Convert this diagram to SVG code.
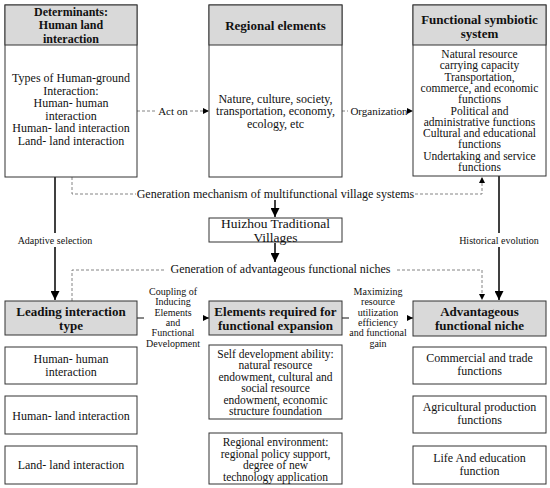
<svg xmlns="http://www.w3.org/2000/svg" width="550" height="488" viewBox="0 0 550 488">
<style>
.box{fill:#fff;stroke:#333;stroke-width:1}
.hdr{fill:#d9d9d9;stroke:#333;stroke-width:1}
text{font-family:"Liberation Serif","Times New Roman",serif;font-size:12px;text-anchor:middle;fill:#111}
.m{font-size:11.5px}
.b{font-weight:bold;font-size:13px}
.b3{font-weight:bold;font-size:12px}
.h{font-size:13.5px}
.s{font-size:10px}
.l{font-size:11px}
.dash{fill:none;stroke:#666;stroke-width:0.8;stroke-dasharray:3,2}
.thin{fill:none;stroke:#111;stroke-width:1}
.thick{fill:none;stroke:#000;stroke-width:1.5}
</style>
<defs>
<marker id="ah" viewBox="0 0 10 10" refX="10" refY="5" markerWidth="6" markerHeight="6" orient="auto" markerUnits="userSpaceOnUse"><path d="M0,0 L10,5 L0,10z" fill="#000"/></marker>
<marker id="ahb" viewBox="0 0 10 10" refX="10" refY="5" markerWidth="9" markerHeight="9" orient="auto" markerUnits="userSpaceOnUse"><path d="M0,0 L10,5 L0,10z" fill="#000"/></marker>
</defs>
<rect width="550" height="488" fill="#fff"/>

<g id="connectors">
<path class="dash" d="M137,111 H157"/>
<path class="dash" d="M190,111 H209" marker-end="url(#ah)"/>
<text class="l" x="173" y="114.5">Act on</text>
<path class="dash" d="M342,111 H348"/>
<path class="dash" d="M408,111 H413" marker-end="url(#ah)"/>
<text class="l" x="379" y="114.5">Organization</text>
<path class="dash" d="M72,177 V194 H136"/>
<path class="dash" d="M415,194 H482 V177" marker-end="url(#ah)"/>
<text x="275.5" y="198">Generation mechanism of multifunctional village systems</text>
<path class="thick" d="M275,200 V217" marker-end="url(#ahb)"/>
<path class="thick" d="M275,243 V262" marker-end="url(#ahb)"/>
<path class="dash" d="M164,270 H72 V301"/>
<path class="dash" d="M397,270 H482 V300" marker-end="url(#ah)"/>
<text x="280.5" y="273">Generation of advantageous functional niches</text>
<path class="thick" d="M55,177 V300" marker-end="url(#ahb)"/>
<rect x="15" y="233" width="80" height="14" fill="#fff"/>
<text class="s" x="55" y="243.5">Adaptive selection</text>
<path class="thick" d="M499,176 V300" marker-end="url(#ahb)"/>
<rect x="456" y="233" width="86" height="14" fill="#fff"/>
<text class="s" x="499" y="243.5">Historical evolution</text>
<path class="thin" d="M137,318 H144"/>
<path class="thin" d="M203,318 H209" marker-end="url(#ah)"/>
<text class="s" x="173"><tspan x="173" y="295">Coupling of</tspan><tspan x="173" y="305.3">Inducing</tspan><tspan x="173" y="315.6">Elements</tspan><tspan x="173" y="325.9">and</tspan><tspan x="173" y="336.2">Functional</tspan><tspan x="173" y="346.5">Development</tspan></text>
<path class="thin" d="M342,318 H349"/>
<path class="thin" d="M407,318 H413" marker-end="url(#ah)"/>
<text class="s" x="378"><tspan x="378" y="295">Maximizing</tspan><tspan x="378" y="305.3">resource</tspan><tspan x="378" y="315.6">utilization</tspan><tspan x="378" y="325.9">efficiency</tspan><tspan x="378" y="336.2">and functional</tspan><tspan x="378" y="346.5">gain</tspan></text>
</g>

<g id="determinants">
<rect class="box" x="5" y="5" width="132" height="172"/>
<rect class="hdr" x="5" y="5" width="132" height="40"/>
<text class="b3"><tspan x="71" y="16">Determinants:</tspan><tspan x="71" y="29.3">Human land</tspan><tspan x="71" y="42.5">interaction</tspan></text>
<text><tspan x="71" y="82">Types of Human-ground</tspan><tspan x="71" y="94.5">Interaction:</tspan><tspan x="71" y="107">Human- human</tspan><tspan x="71" y="119.5">interaction</tspan><tspan x="71" y="132">Human- land interaction</tspan><tspan x="71" y="144.5">Land- land interaction</tspan></text>
</g>

<g id="regional-elements">
<rect class="box" x="209" y="5" width="133" height="172"/>
<rect class="hdr" x="209" y="5" width="133" height="40"/>
<text class="b" x="275.5" y="29.5">Regional elements</text>
<text><tspan x="275.5" y="102.5">Nature, culture, society,</tspan><tspan x="275.5" y="115">transportation, economy,</tspan><tspan x="275.5" y="127.5">ecology, etc</tspan></text>
</g>

<g id="functional-symbiotic-system">
<rect class="box" x="413" y="5" width="133" height="171"/>
<rect class="hdr" x="413" y="5" width="133" height="40"/>
<text class="b"><tspan x="479.5" y="23.5">Functional symbiotic</tspan><tspan x="479.5" y="37.5">system</tspan></text>
<text class="m"><tspan x="479.5" y="58">Natural resource</tspan><tspan x="479.5" y="69.3">carrying capacity</tspan><tspan x="479.5" y="80.6">Transportation,</tspan><tspan x="479.5" y="91.9">commerce, and economic</tspan><tspan x="479.5" y="103.2">functions</tspan><tspan x="479.5" y="114.5">Political and</tspan><tspan x="479.5" y="125.8">administrative functions</tspan><tspan x="479.5" y="137.1">Cultural and educational</tspan><tspan x="479.5" y="148.4">functions</tspan><tspan x="479.5" y="159.7">Undertaking and service</tspan><tspan x="479.5" y="171">functions</tspan></text>
</g>

<g id="huizhou">
<rect class="box" x="209" y="218" width="133" height="24"/>
<text class="h"><tspan x="275.5" y="227.5">Huizhou Traditional</tspan><tspan x="275.5" y="242">Villages</tspan></text>
</g>

<g id="leading-interaction-type">
<rect class="hdr" x="5" y="301" width="132" height="34"/>
<text class="b"><tspan x="71" y="315.5">Leading interaction</tspan><tspan x="71" y="330">type</tspan></text>
</g>
<g id="human-human">
<rect class="box" x="5" y="347" width="132" height="37"/>
<text><tspan x="71" y="362.5">Human- human</tspan><tspan x="71" y="375.5">interaction</tspan></text>
</g>
<g id="human-land">
<rect class="box" x="5" y="396" width="132" height="38"/>
<text x="71" y="419.5">Human- land interaction</text>
</g>
<g id="land-land">
<rect class="box" x="5" y="446" width="132" height="38"/>
<text x="71" y="469">Land- land interaction</text>
</g>

<g id="elements-required">
<rect class="hdr" x="209" y="301" width="133" height="34"/>
<text class="b"><tspan x="275.5" y="315.5">Elements required for</tspan><tspan x="275.5" y="329.5">functional expansion</tspan></text>
</g>
<g id="self-development">
<rect class="box" x="209" y="345" width="133" height="74"/>
<text class="m"><tspan x="275.5" y="357.5">Self development ability:</tspan><tspan x="275.5" y="369">natural resource</tspan><tspan x="275.5" y="380.5">endowment, cultural and</tspan><tspan x="275.5" y="392">social resource</tspan><tspan x="275.5" y="403.5">endowment, economic</tspan><tspan x="275.5" y="415">structure foundation</tspan></text>
</g>
<g id="regional-environment">
<rect class="box" x="209" y="433" width="133" height="51"/>
<text class="m"><tspan x="275.5" y="446">Regional environment:</tspan><tspan x="275.5" y="457.5">regional policy support,</tspan><tspan x="275.5" y="469">degree of new</tspan><tspan x="275.5" y="480.5">technology application</tspan></text>
</g>

<g id="advantageous-niche">
<rect class="hdr" x="413" y="301" width="133" height="35"/>
<text class="b"><tspan x="479.5" y="315.5">Advantageous</tspan><tspan x="479.5" y="329.5">functional niche</tspan></text>
</g>
<g id="commercial">
<rect class="box" x="413" y="347" width="133" height="37"/>
<text><tspan x="479.5" y="362">Commercial and trade</tspan><tspan x="479.5" y="375">functions</tspan></text>
</g>
<g id="agricultural">
<rect class="box" x="413" y="396" width="133" height="37"/>
<text><tspan x="479.5" y="410.5">Agricultural production</tspan><tspan x="479.5" y="423.5">functions</tspan></text>
</g>
<g id="life-education">
<rect class="box" x="413" y="446" width="133" height="38"/>
<text><tspan x="479.5" y="461.5">Life And education</tspan><tspan x="479.5" y="474.5">function</tspan></text>
</g>
</svg>
